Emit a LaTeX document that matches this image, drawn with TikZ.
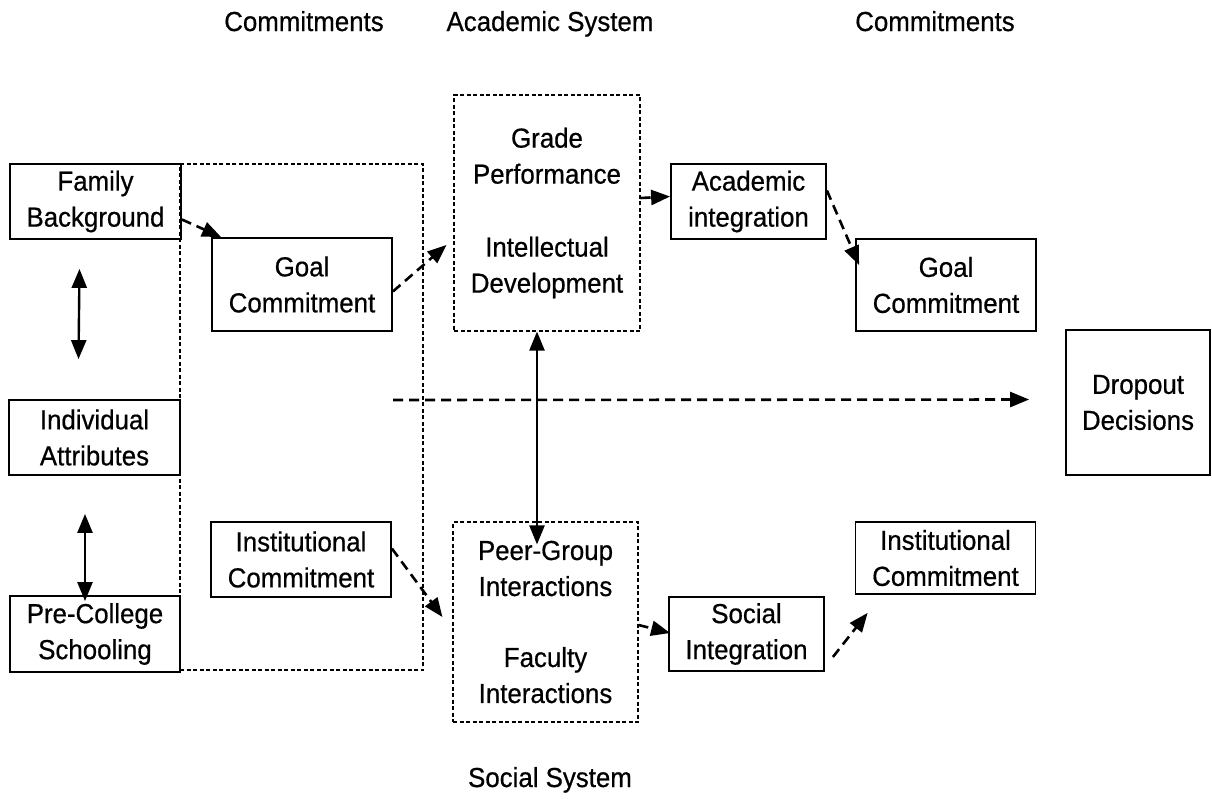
\documentclass[tikz,border=0pt]{standalone}
\usepackage{fontspec}
\setmainfont{Liberation Sans}[FakeStretch=0.94,FakeBold=0.6]
\usetikzlibrary{arrows.meta}
\begin{document}
\begin{tikzpicture}[x=1pt,y=-1pt,
  every node/.style={font=\fontsize{27.5pt}{36pt}\selectfont, align=center, inner sep=0pt},
  heading/.style={anchor=base},
  box/.style={draw, line width=1.8pt, minimum width=#1},
  dotbox/.style={draw, line width=1.1pt, dash pattern=on 4pt off 2.5pt},
  tip/.style={Triangle[length=19pt,width=15pt]},
  flow/.style={line width=2.6pt, dash pattern=on 10pt off 6pt, -{Triangle[length=19pt,width=15pt]}},
  link/.style={line width=2.4pt, {Triangle[length=19pt,width=15pt]}-{Triangle[length=19pt,width=15pt]}}
]
\useasboundingbox (0,0) rectangle (1212,798);

% column headings
\node[heading] (hcom1) at (304,31) {Commitments};
\node[heading] (hacad) at (550,31) {Academic System};
\node[heading] (hcom2) at (935,31) {Commitments};
\node[heading] (hsoc)  at (550,787) {Social System};

% frame around the initial commitments
\node[dotbox, minimum width=243pt, minimum height=506pt] (frame) at (301.5,417) {};

% pre-entry attributes
\node[box=171pt, minimum height=75pt] (fam)   at (95.5,201.5) {Family\\Background};
\node[box=171pt, minimum height=75pt] (indiv) at (94.5,437.5) {Individual\\Attributes};
\node[box=170pt, minimum height=76pt] (pre)   at (95,634)     {Pre-College\\Schooling};

% initial commitments
\node[box=180pt, minimum height=93pt] (goalL) at (302,284.5) {Goal\\Commitment};
\node[box=180pt, minimum height=75pt] (instL) at (301,559.5) {Institutional\\Commitment};

% academic and social systems
\node[dotbox, minimum width=186pt, minimum height=236pt] (grade) at (547,213)
  {Grade\\Performance\\[37pt]Intellectual\\Development};
\node[dotbox, minimum width=185pt, minimum height=200pt] (social) at (545.5,622)
  {Peer-Group\\Interactions\\[35pt]Faculty\\Interactions};

% integration
\node[box=155pt, minimum height=75pt] (acad)   at (748.5,201.5) {Academic\\integration};
\node[box=155pt, minimum height=74pt] (socint) at (746.5,634)   {Social\\Integration};

% later commitments
\node[box=180pt, minimum height=92pt] (goalR) at (946,285)   {Goal\\Commitment};
\node[box=180pt, minimum height=72pt] (instR) at (945.5,558) {Institutional\\Commitment};

% outcome
\node[box=144pt, minimum height=145pt] (drop) at (1138,402.5) {Dropout\\Decisions};

% two-way relations
\draw[link] ([xshift=-16pt,yshift=-29pt]fam.south) -- ([xshift=-16pt,yshift=40pt]indiv.north);
\draw[link] ([xshift=-9.5pt,yshift=-38pt]indiv.south) -- ([xshift=-10pt,yshift=-6pt]pre.north);
\draw[link] ([xshift=-10pt]grade.south) -- ([xshift=-8.5pt,yshift=-23pt]social.north);

% flows
\draw[flow] ([yshift=-18pt]fam.east) -- ([xshift=10pt]goalL.north west);
\draw[flow] ([yshift=-7pt]goalL.east) -- ([xshift=-7pt,yshift=-32pt]grade.west);
\draw[flow] ([yshift=15pt]grade.east) -- ([yshift=5pt]acad.west);
\draw[flow] ([yshift=11pt]acad.east) -- ([xshift=4pt,yshift=20pt]goalR.west);
\draw[flow] ([yshift=11pt]instL.east) -- ([xshift=-10pt,yshift=5pt]social.west);
\draw[flow] ([yshift=-3pt]social.east) -- ([xshift=2pt,yshift=1pt]socint.west);
\draw[flow] ([xshift=8pt,yshift=-23pt]socint.east) -- ([xshift=13pt,yshift=-18pt]instR.south west);

\coordinate (hstart) at (393,400);
\draw[flow] (hstart) -- ([xshift=-36pt,yshift=3pt]drop.west);
\end{tikzpicture}
\end{document}
